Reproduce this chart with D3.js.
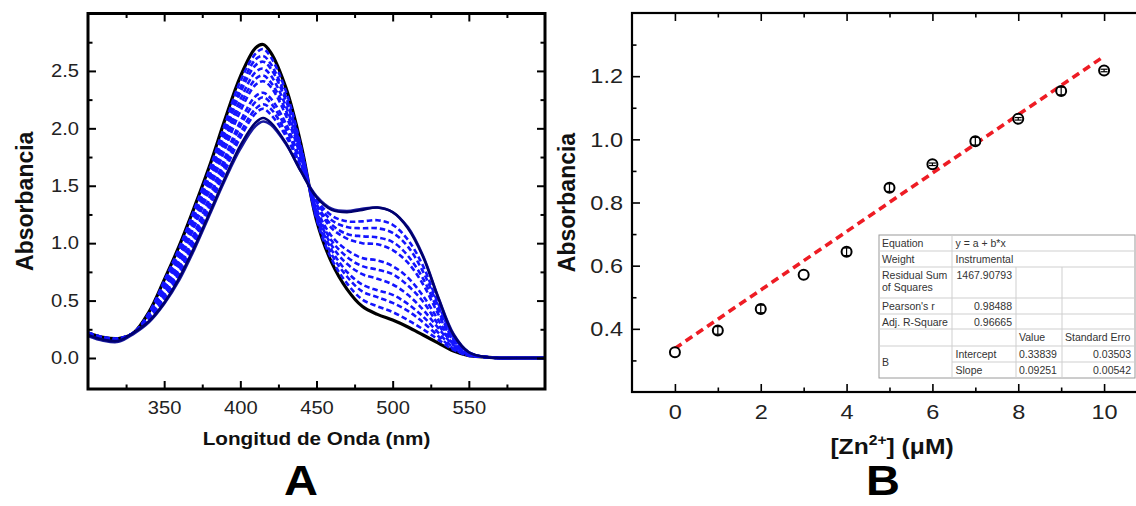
<!DOCTYPE html>
<html><head><meta charset="utf-8">
<script src="https://cdn.jsdelivr.net/npm/d3@7"></script>
<style>
body{margin:0;background:#fff;}
svg{display:block;font-family:Arial,"Liberation Sans",sans-serif;}
</style></head><body>
<svg id="c" width="1136" height="506"></svg>
<script>
// ---------- Panel A data (absorbance spectra) ----------
const wavelengths = [300,310,320,330,340,350,360,370,380,390,400,410,415,420,430,440,450,460,470,480,490,500,510,520,530,540,550,560,570,580,590,600];
const specBlack = [0.22,0.18,0.17,0.22,0.40,0.68,0.98,1.32,1.68,2.08,2.45,2.70,2.73,2.66,2.35,1.85,1.20,0.83,0.60,0.45,0.38,0.33,0.27,0.20,0.13,0.06,0.02,0.01,0,0,0,0];
const specD1 = [0.22,0.18,0.17,0.22,0.39,0.67,0.96,1.30,1.65,2.04,2.41,2.65,2.69,2.62,2.32,1.83,1.21,0.86,0.65,0.51,0.45,0.40,0.33,0.25,0.16,0.07,0.02,0.01,0,0,0,0];
const specD2 = [0.22,0.18,0.17,0.22,0.39,0.65,0.94,1.26,1.61,2.00,2.35,2.60,2.63,2.56,2.27,1.81,1.23,0.90,0.71,0.58,0.53,0.48,0.41,0.31,0.19,0.08,0.02,0.01,0,0,0,0];
const specD3 = [0.22,0.18,0.17,0.22,0.38,0.63,0.92,1.24,1.59,1.96,2.31,2.55,2.58,2.52,2.24,1.80,1.25,0.94,0.75,0.64,0.59,0.55,0.47,0.36,0.22,0.09,0.03,0.01,0,0,0,0];
const specD4 = [0.21,0.17,0.16,0.22,0.37,0.61,0.89,1.20,1.55,1.91,2.25,2.49,2.52,2.46,2.19,1.77,1.27,0.98,0.82,0.73,0.69,0.64,0.55,0.42,0.26,0.11,0.03,0.01,0,0,0,0];
const specD5 = [0.21,0.17,0.16,0.22,0.37,0.60,0.86,1.17,1.51,1.87,2.20,2.43,2.46,2.40,2.15,1.75,1.28,1.02,0.88,0.80,0.77,0.73,0.63,0.49,0.29,0.12,0.03,0.01,0,0,0,0];
const specD6 = [0.21,0.17,0.16,0.22,0.36,0.58,0.84,1.15,1.47,1.82,2.15,2.38,2.41,2.36,2.11,1.74,1.30,1.06,0.94,0.87,0.85,0.80,0.70,0.54,0.33,0.13,0.04,0.01,0,0,0,0];
const specD7 = [0.21,0.17,0.16,0.22,0.35,0.55,0.80,1.09,1.41,1.75,2.06,2.28,2.31,2.26,2.04,1.70,1.33,1.13,1.04,1.00,0.99,0.94,0.83,0.64,0.38,0.15,0.04,0.01,0,0,0,0];
const specD8 = [0.21,0.17,0.16,0.22,0.34,0.54,0.78,1.07,1.39,1.71,2.02,2.23,2.27,2.22,2.00,1.68,1.34,1.16,1.08,1.06,1.05,1.01,0.89,0.69,0.41,0.16,0.04,0.01,0,0,0,0];
const specD9 = [0.20,0.16,0.15,0.22,0.34,0.52,0.75,1.04,1.35,1.67,1.96,2.17,2.21,2.17,1.96,1.66,1.36,1.20,1.14,1.13,1.13,1.09,0.97,0.75,0.45,0.17,0.04,0.01,0,0,0,0];
const specD10 = [0.20,0.16,0.15,0.22,0.33,0.50,0.73,1.01,1.32,1.63,1.92,2.13,2.17,2.12,1.93,1.65,1.38,1.24,1.19,1.19,1.20,1.16,1.03,0.80,0.47,0.18,0.05,0.01,0,0,0,0];
const specNavy = [0.20,0.16,0.15,0.22,0.32,0.48,0.70,0.97,1.27,1.57,1.85,2.05,2.09,2.05,1.87,1.62,1.40,1.29,1.27,1.29,1.31,1.27,1.13,0.88,0.52,0.20,0.05,0.01,0,0,0,0];
const specNavy2 = [0.19,0.15,0.14,0.21,0.31,0.47,0.68,0.95,1.25,1.55,1.82,2.02,2.06,2.03,1.86,1.62,1.41,1.30,1.28,1.30,1.31,1.27,1.14,0.89,0.53,0.21,0.05,0.01,0,0,0,0];
const xTicksA = [350,400,450,500,550];
const xMinorA = [325,375,425,475,525,575];
const yTicksA = [0,0.5,1,1.5,2,2.5];
const yMinorA = [0.25,0.75,1.25,1.75,2.25,2.75];

// ---------- Panel B data ----------
const zn = [0,1,2,3,4,5,6,7,8,9,10];
const absB = [0.326,0.395,0.463,0.571,0.644,0.847,0.921,0.994,1.065,1.153,1.218];
const errB = [0,0.012,0.012,0,0.012,0.012,0.004,0.012,0.004,0.012,0.004];
const fitX = [0,10];
const fitY = [0.338,1.263];
const xTicksB = [0,2,4,6,8,10];
const xMinorB = [1,3,5,7,9];
const yTicksB = [0.4,0.6,0.8,1.0,1.2];
const yMinorB = [0.3,0.5,0.7,0.9,1.1,1.3];
const tblLabels = ["Equation","Weight","Residual Sum|of Squares","Pearson's r","Adj. R-Square","","B"];
const tblValues = ["y = a + b*x","Instrumental","1467.90793","0.98488","0.96665"];
const tblParams = ["Intercept","Slope"];
const tblValue = ["0.33839","0.09251"];
const tblErr = ["0.03503","0.00542"];

const svg = d3.select("#c");
const SX = 1.12;

function styleAxis(g, fs){
  g.select(".domain").remove();
  g.selectAll(".tick line").attr("stroke","#000").attr("stroke-width",2);
  g.selectAll("text").attr("font-size",fs).attr("fill","#222")
    .attr("font-family","Arial, 'Liberation Sans', sans-serif")
    .attr("transform",`scale(${SX},1)`);
}

// ================= Panel A =================
const A = {l:88, r:545, t:13.5, b:389};
const xA = d3.scaleLinear().domain([300,600]).range([A.l,A.r]);
const yA = d3.scaleLinear().domain([-0.27,3.0]).range([A.b,A.t]);

svg.append("clipPath").attr("id","clipA").append("rect")
  .attr("x",A.l).attr("y",A.t).attr("width",A.r-A.l).attr("height",A.b-A.t);

const lineA = d3.line().x((d,i)=>xA(wavelengths[i])).y(d=>yA(d)).curve(d3.curveCatmullRom.alpha(0.5));
const gCurves = svg.append("g").attr("clip-path","url(#clipA)");
gCurves.append("path").attr("d",lineA(specBlack)).attr("fill","none").attr("stroke","#000").attr("stroke-width",3.2);
[specD1,specD2,specD3,specD4,specD5,specD6,specD7,specD8,specD9,specD10].forEach(s=>{
  gCurves.append("path").attr("d",lineA(s)).attr("fill","none").attr("stroke","#1414ff")
    .attr("stroke-width",2.6).attr("stroke-dasharray","5.5,3");
});
gCurves.append("path").attr("d",lineA(specNavy2)).attr("fill","none").attr("stroke","#1a1aa0").attr("stroke-width",2.4);
gCurves.append("path").attr("d",lineA(specNavy)).attr("fill","none").attr("stroke","#00006e").attr("stroke-width",2.6);

// axes A
let g;
g = svg.append("g").attr("transform",`translate(${A.l},0)`)
  .call(d3.axisLeft(yA).tickValues(yTicksA).tickSize(-8).tickPadding(8).tickFormat(d3.format(".1f")));
styleAxis(g,18);
g = svg.append("g").attr("transform",`translate(${A.l},0)`)
  .call(d3.axisLeft(yA).tickValues(yMinorA).tickSize(-4.5).tickFormat(""));
styleAxis(g,18);
g = svg.append("g").attr("transform",`translate(${A.r},0)`)
  .call(d3.axisRight(yA).tickValues(yTicksA).tickSize(-8).tickFormat(""));
styleAxis(g,18);
g = svg.append("g").attr("transform",`translate(${A.r},0)`)
  .call(d3.axisRight(yA).tickValues(yMinorA).tickSize(-4.5).tickFormat(""));
styleAxis(g,18);
g = svg.append("g").attr("transform",`translate(0,${A.b})`)
  .call(d3.axisBottom(xA).tickValues(xTicksA).tickSize(-8).tickPadding(12).tickFormat(d3.format("d")));
styleAxis(g,18);
g = svg.append("g").attr("transform",`translate(0,${A.b})`)
  .call(d3.axisBottom(xA).tickValues(xMinorA).tickSize(-4.5).tickFormat(""));
styleAxis(g,18);
g = svg.append("g").attr("transform",`translate(0,${A.t})`)
  .call(d3.axisTop(xA).tickValues(xTicksA).tickSize(-8).tickFormat(""));
styleAxis(g,18);
g = svg.append("g").attr("transform",`translate(0,${A.t})`)
  .call(d3.axisTop(xA).tickValues(xMinorA).tickSize(-4.5).tickFormat(""));
styleAxis(g,18);

svg.append("rect").attr("x",A.l).attr("y",A.t).attr("width",A.r-A.l).attr("height",A.b-A.t)
  .attr("fill","none").attr("stroke","#000").attr("stroke-width",3);

svg.append("text").attr("transform",`translate(${(A.l+A.r)/2},445) scale(${SX},1)`)
  .attr("text-anchor","middle").attr("font-weight","bold").attr("font-size",18.5).attr("fill","#111")
  .text("Longitud de Onda (nm)");
svg.append("text").attr("transform",`translate(33,${(A.t+A.b)/2}) rotate(-90)`)
  .attr("text-anchor","middle").attr("font-weight","bold").attr("font-size",23).attr("fill","#111")
  .text("Absorbancia");
svg.append("text").attr("transform",`translate(301,495) scale(${SX},1)`)
  .attr("text-anchor","middle").attr("font-weight","bold").attr("font-size",42).attr("fill","#000")
  .text("A");

// ================= Panel B =================
const B = {l:632, r:1147, t:13, b:392};
const xB = d3.scaleLinear().domain([-1,11]).range([B.l,B.r]);
const yB = d3.scaleLinear().domain([0.2,1.4]).range([B.b,B.t]);

function styleAxisB(g, fs){
  styleAxis(g, fs);
  g.selectAll(".tick line").attr("stroke-width",1.6);
}
g = svg.append("g").attr("transform",`translate(${B.l},0)`)
  .call(d3.axisLeft(yB).tickValues(yTicksB).tickSize(-8).tickPadding(8).tickFormat(d3.format(".1f")));
styleAxisB(g,21);
g = svg.append("g").attr("transform",`translate(${B.l},0)`)
  .call(d3.axisLeft(yB).tickValues(yMinorB).tickSize(-4.5).tickFormat(""));
styleAxisB(g,21);
g = svg.append("g").attr("transform",`translate(0,${B.b})`)
  .call(d3.axisBottom(xB).tickValues(xTicksB).tickSize(-8).tickPadding(12).tickFormat(d3.format("d")));
styleAxisB(g,21);
g = svg.append("g").attr("transform",`translate(0,${B.b})`)
  .call(d3.axisBottom(xB).tickValues(xMinorB).tickSize(-4.5).tickFormat(""));
styleAxisB(g,21);
g = svg.append("g").attr("transform",`translate(0,${B.t})`)
  .call(d3.axisTop(xB).tickValues(xTicksB).tickSize(-8).tickFormat(""));
styleAxisB(g,21);
g = svg.append("g").attr("transform",`translate(0,${B.t})`)
  .call(d3.axisTop(xB).tickValues(xMinorB).tickSize(-4.5).tickFormat(""));
styleAxisB(g,21);

svg.append("rect").attr("x",B.l).attr("y",B.t).attr("width",B.r-B.l).attr("height",B.b-B.t)
  .attr("fill","none").attr("stroke","#000").attr("stroke-width",2.2);

// fit line
svg.append("path").attr("d",d3.line().x((d,i)=>xB(fitX[i])).y(d=>yB(d))(fitY))
  .attr("fill","none").attr("stroke","#ee1c24").attr("stroke-width",3.6).attr("stroke-dasharray","8,5");

// markers
const gm = svg.append("g");
zn.forEach((z,i)=>{
  const cx = xB(z), cy = yB(absB[i]);
  gm.append("circle").attr("cx",cx).attr("cy",cy).attr("r",5).attr("fill","#fff")
    .attr("stroke","#000").attr("stroke-width",2);
  const e = errB[i];
  if(e>0){
    const y1 = yB(absB[i]+e), y2 = yB(absB[i]-e);
    gm.append("line").attr("x1",cx).attr("x2",cx).attr("y1",y1).attr("y2",y2).attr("stroke","#000").attr("stroke-width",1.2);
    [y1,y2].forEach(yy=>gm.append("line").attr("x1",cx-3.5).attr("x2",cx+3.5).attr("y1",yy).attr("y2",yy)
      .attr("stroke","#000").attr("stroke-width",1.2));
  }
});

// table
const cols = [879,952,1016,1062,1135];
const rows = [235,251,267,298,314,329,346,362,378];
const gt = svg.append("g").attr("font-size",10.5).attr("fill","#333");
gt.append("rect").attr("x",cols[0]).attr("y",rows[0]).attr("width",cols[4]-cols[0]).attr("height",rows[8]-rows[0])
  .attr("fill","#fff").attr("stroke","#9a9a9a").attr("stroke-width",1);
const lc = "#cfcfcf";
for(let r=1;r<8;r++){
  const x1 = (r===7) ? cols[1] : cols[0];
  gt.append("line").attr("x1",x1).attr("x2",cols[4]).attr("y1",rows[r]).attr("y2",rows[r]).attr("stroke",lc);
}
gt.append("line").attr("x1",cols[1]).attr("x2",cols[1]).attr("y1",rows[0]).attr("y2",rows[8]).attr("stroke",lc);
[cols[2],cols[3]].forEach(x=>gt.append("line").attr("x1",x).attr("x2",x).attr("y1",rows[2]).attr("y2",rows[8]).attr("stroke",lc));
function t(x,y,s,anchor){ gt.append("text").attr("x",x).attr("y",y).attr("text-anchor",anchor||"start").attr("fill","#333").text(s); }
t(882,rows[0]+12,tblLabels[0]);
t(882,rows[1]+12,tblLabels[1]);
t(882,rows[2]+12,tblLabels[2].split("|")[0]);
t(882,rows[2]+24,tblLabels[2].split("|")[1]);
t(882,rows[3]+12,tblLabels[3]);
t(882,rows[4]+12,tblLabels[4]);
t(882,366,tblLabels[6]);
t(955.5,rows[0]+12,tblValues[0]);
t(955.5,rows[1]+12,tblValues[1]);
t(1012,rows[2]+12,tblValues[2],"end");
t(1012,rows[3]+12,tblValues[3],"end");
t(1012,rows[4]+12,tblValues[4],"end");
t(1019,rows[5]+12,"Value");
t(1065,rows[5]+12,"Standard Erro");
tblParams.forEach((p,i)=>{
  t(955.5,rows[6+i]+12,p);
  t(1019,rows[6+i]+12,tblValue[i]);
  t(1131,rows[6+i]+12,tblErr[i],"end");
});

// titles B
svg.append("text").attr("transform",`translate(575,${(B.t+B.b)/2}) rotate(-90)`)
  .attr("text-anchor","middle").attr("font-weight","bold").attr("font-size",23).attr("fill","#111")
  .text("Absorbancia");
const tx = svg.append("text").attr("transform",`translate(892,454) scale(${SX},1)`)
  .attr("text-anchor","middle").attr("font-weight","bold").attr("font-size",22).attr("fill","#111");
tx.append("tspan").text("[Zn");
tx.append("tspan").attr("font-size",14).attr("dy",-9).text("2+");
tx.append("tspan").attr("dy",9).text("] (μM)");
svg.append("text").attr("transform",`translate(883,495) scale(${SX},1)`)
  .attr("text-anchor","middle").attr("font-weight","bold").attr("font-size",42).attr("fill","#000")
  .text("B");
</script>
</body></html>
